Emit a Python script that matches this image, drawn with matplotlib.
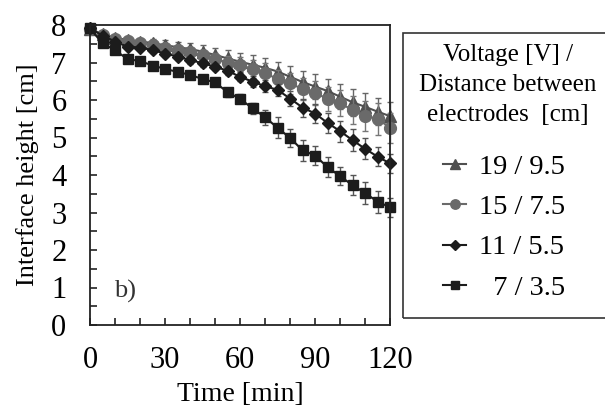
import matplotlib
matplotlib.use("Agg")
import matplotlib.pyplot as plt
from matplotlib.ticker import MultipleLocator
from matplotlib.patches import Rectangle

plt.rcParams['font.family'] = ['Liberation Serif', 'DejaVu Serif']

time_min = [0, 5, 10, 15, 20, 25, 30, 35, 40, 45, 50, 55, 60,
            65, 70, 75, 80, 85, 90, 95, 100, 105, 110, 115, 120]

# interface height [cm] per voltage / electrode distance
h_19 = [7.90, 7.75, 7.66, 7.60, 7.56, 7.52, 7.46, 7.41, 7.36, 7.29, 7.20, 7.11, 7.02,
        6.94, 6.86, 6.76, 6.62, 6.48, 6.36, 6.24, 6.09, 5.94, 5.82, 5.69, 5.57]
h_15 = [7.90, 7.74, 7.64, 7.57, 7.52, 7.47, 7.40, 7.34, 7.28, 7.20, 7.10, 7.00, 6.93,
        6.83, 6.73, 6.55, 6.45, 6.29, 6.18, 6.04, 5.91, 5.74, 5.57, 5.50, 5.26]
h_11 = [7.91, 7.72, 7.56, 7.42, 7.40, 7.33, 7.24, 7.16, 7.07, 6.98, 6.89, 6.78, 6.62,
        6.49, 6.37, 6.27, 6.04, 5.80, 5.64, 5.39, 5.17, 4.93, 4.70, 4.49, 4.31]
h_7 = [7.91, 7.51, 7.33, 7.09, 7.04, 6.92, 6.83, 6.75, 6.67, 6.56, 6.47, 6.21, 6.03,
       5.78, 5.54, 5.26, 4.99, 4.66, 4.52, 4.21, 3.97, 3.73, 3.52, 3.29, 3.14]

# error bars
e_19 = [0.00, 0.05, 0.08, 0.10, 0.10, 0.12, 0.14, 0.15, 0.16, 0.18, 0.20, 0.22, 0.24,
        0.25, 0.26, 0.26, 0.28, 0.30, 0.32, 0.32, 0.34, 0.36, 0.36, 0.36, 0.38]
e_15 = [0.00, 0.05, 0.06, 0.08, 0.08, 0.10, 0.10, 0.12, 0.12, 0.14, 0.15, 0.18, 0.22,
        0.24, 0.26, 0.26, 0.28, 0.30, 0.32, 0.32, 0.35, 0.38, 0.40, 0.42, 0.40]
e_11 = [0.00, 0.05, 0.05, 0.06, 0.06, 0.08, 0.08, 0.08, 0.10, 0.10, 0.10, 0.12, 0.12,
        0.14, 0.15, 0.16, 0.20, 0.24, 0.26, 0.26, 0.28, 0.30, 0.28, 0.26, 0.26]
e_7 = [0.00, 0.05, 0.05, 0.05, 0.05, 0.05, 0.05, 0.05, 0.05, 0.08, 0.08, 0.12, 0.12,
       0.15, 0.20, 0.28, 0.25, 0.28, 0.26, 0.26, 0.24, 0.27, 0.30, 0.29, 0.26]

labels = ['19 / 9.5', '15 / 7.5', '11 / 5.5', '  7 / 3.5']

fig = plt.figure(figsize=(6.05, 4.07), dpi=100)
ax = fig.add_axes([90 / 605, 1 - 325 / 407, 300 / 605, 300 / 407])

series = [
    (h_19, e_19, '^', 9.0, '#505050', '#666666'),
    (h_15, e_15, 'o', 8.5, '#6a6a6a', '#777777'),
    (h_11, e_11, 'D', 6.0, '#1c1c1c', '#555555'),
    (h_7, e_7, 's', 7.5, '#1c1c1c', '#555555'),
]
handles = []
for (h, e, m, ms, c, ec), lab in zip(series, labels):
    ax.errorbar(time_min, h, yerr=e, fmt='none', ecolor=ec, elinewidth=1.0,
                capsize=2.5, capthick=1.0, clip_on=False)
    ln, = ax.plot(time_min, h, color=c, lw=1.5, marker=m, ms=ms,
                  mec=c, mfc=c, clip_on=False, label=lab)
    handles.append(ln)

ax.set_xlim(0, 120)
ax.set_ylim(0, 8)
ax.xaxis.set_major_locator(MultipleLocator(30))
ax.xaxis.set_minor_locator(MultipleLocator(10))
ax.yaxis.set_major_locator(MultipleLocator(1))
ax.yaxis.set_minor_locator(MultipleLocator(0.5))
ax.tick_params(which='both', direction='in', length=5, width=1.2, color='#222222')
ax.tick_params(axis='x', which='major', pad=15, labelsize=22)
ax.tick_params(axis='y', which='major', pad=17, labelsize=22)
for s in ax.spines.values():
    s.set_linewidth(1.3)
    s.set_color('#222222')

ax.set_xlabel('Time [min]', fontsize=20, labelpad=5)
ax.set_ylabel('Interface height [cm]', fontsize=19, labelpad=9)
ax.text(14, 0.9, 'b)', fontsize=19, color='#333333', ha='center', va='center')

# legend box, running off the right edge like the original
fig.add_artist(Rectangle((403 / 605, 1 - 318 / 407), 0.4, 285 / 407,
                         transform=fig.transFigure, fill=False, lw=1.2,
                         ec='#333333', clip_on=False))
for yy, txt in [(55, 'Voltage [V] /'), (85, 'Distance between'), (115, 'electrodes  [cm]')]:
    fig.text(508 / 605, 1 - yy / 407, txt, fontsize=18, ha='center', va='center')

leg = fig.legend(handles=handles, labels=labels, frameon=False, loc='upper left',
                 bbox_to_anchor=(429 / 605, 1 - 140 / 407), fontsize=20.5,
                 handlelength=0.8, handletextpad=0.45, labelspacing=0.5,
                 markerscale=0.8, borderpad=0)

fig.savefig('out.png', dpi=100)
